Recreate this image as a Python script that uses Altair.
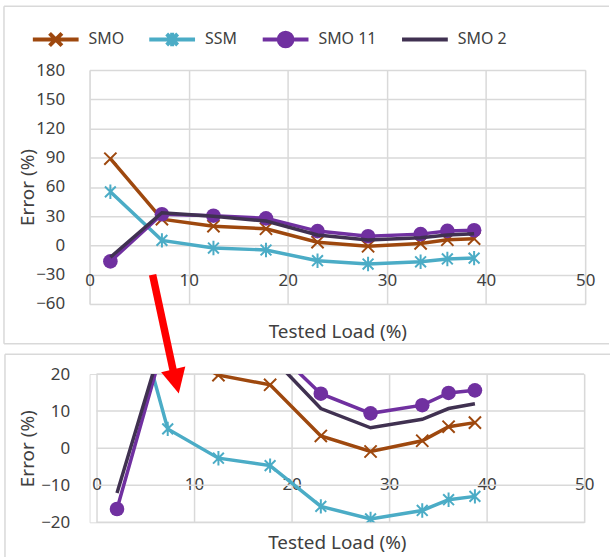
import altair as alt
import pandas as pd

# ---------------- data ----------------
series_names = ["SMO", "SSM", "SMO 11", "SMO 2"]
tested_load = [2.1, 7.3, 12.5, 17.8, 23.0, 28.1, 33.4, 36.1, 38.8]
err_smo = [89.0, 27.0, 19.7, 17.1, 3.3, -0.9, 2.0, 5.8, 6.9]
err_ssm = [55.0, 5.2, -2.7, -4.7, -15.7, -19.1, -16.8, -13.9, -13.0]
err_smo11 = [-16.4, 32.0, 30.5, 27.8, 14.7, 9.4, 11.6, 14.9, 15.6]
err_smo2 = [-12.1, 33.5, 30.0, 25.0, 10.7, 5.5, 7.8, 10.7, 12.0]

x_ticks = [0, 10, 20, 30, 40, 50]
y_ticks_top = [-60, -30, 0, 30, 60, 90, 120, 150, 180]
y_ticks_zoom = [-20, -10, 0, 10, 20]

series_colors = ["#9E480E", "#4BACC6", "#7030A0", "#403151"]

# red annotation arrow (in zoomed-panel data units)
arrow_load = [5.75, 7.9]
arrow_err = [46.8, 20.5]
arrow_head_load = [8.15]
arrow_head_err = [18.0]

rows = []
for name, vals in zip(series_names, [err_smo, err_ssm, err_smo11, err_smo2]):
    for x, v in zip(tested_load, vals):
        rows.append({"Series": name, "Load": x, "Error": v})
df = pd.DataFrame(rows)

arrow_df = pd.DataFrame({"Load": [arrow_load[0]], "Error": [arrow_err[0]],
                         "Load2": [arrow_load[1]], "Error2": [arrow_err[1]]})
head_df = pd.DataFrame({"Load": arrow_head_load, "Error": arrow_head_err})
grid_df = pd.DataFrame({"Error": y_ticks_zoom})
one = pd.DataFrame({"k": [0]})

FONT = "Noto Sans"
TXT = "#404040"
GRID = "#D9D9D9"

X_PATH = "M-1,-1L1,1M-1,1L1,-1"
AST_PATH = "M0,-1L0,1M-0.75,-0.75L0.75,0.75M-0.75,0.75L0.75,-0.75"
marker_paths = {"SMO": (X_PATH, False, 150), "SSM": (AST_PATH, False, 210),
                "SMO 11": ("circle", True, 215)}
EXT = "M0,-0.32M0,0.32"
legend_paths = [
    "M-1,0L1,0M-0.27,-0.27L0.27,0.27M-0.27,0.27L0.27,-0.27" + EXT,
    "M-1,0L1,0M0,-0.3L0,0.3M-0.24,-0.24L0.24,0.24M-0.24,0.24L0.24,-0.24" + EXT,
    "M-1,0L1,0M0.3,0A0.3,0.3 0 1,1 -0.3,0A0.3,0.3 0 1,1 0.3,0Z" + EXT,
    "M-1,0L1,0" + EXT,
]
TRI_PATH = "M-1,-1L1,-1L0,1Z"

color_scale = alt.Scale(domain=series_names, range=series_colors)


def xaxis(offset, title_y):
    return alt.Axis(values=x_ticks, grid=True, gridColor=GRID, gridWidth=1.5,
                    domain=False, ticks=False, tickSize=0, labelFlush=False,
                    labelPadding=0, labelBaseline="middle", labelFontSize=17,
                    labelFont=FONT, labelColor=TXT, offset=offset,
                    title="Tested Load (%)", titleFont=FONT, titleFontSize=19,
                    titleFontWeight="normal", titleColor=TXT, titleY=title_y,
                    titleBaseline="alphabetic")


def yaxis(vals, pad, tx, h, grid):
    return alt.Axis(values=vals, grid=grid, gridColor=GRID, gridWidth=1.5,
                    domain=False, ticks=False, tickSize=0, labelPadding=pad,
                    labelFontSize=17, labelFont=FONT, labelColor=TXT,
                    title="Error (%)", titleFont=FONT, titleFontSize=19,
                    titleFontWeight="normal", titleColor=TXT,
                    titleX=tx, titleY=h / 2, titleBaseline="middle",
                    titleAngle=270)


def panel(xdom, ydom, yvals, h, x_off, x_title_y, y_pad, y_title_x, clip, ygrid):
    xs = alt.Scale(domain=xdom, nice=False, zero=False)
    ys = alt.Scale(domain=ydom, nice=False, zero=False)
    X = alt.X("Load:Q", scale=xs, axis=xaxis(x_off, x_title_y))
    Y = alt.Y("Error:Q", scale=ys, axis=yaxis(yvals, y_pad, y_title_x, h, ygrid))
    layers = []
    for name in series_names:
        sub = alt.Chart(df).transform_filter(alt.datum.Series == name)
        layers.append(sub.mark_line(strokeWidth=3.5, clip=clip).encode(
            x=X, y=Y, color=alt.Color("Series:N", scale=color_scale, legend=None)))
        if name in marker_paths:
            shp, filled, size = marker_paths[name]
            layers.append(sub.mark_point(shape=shp, filled=filled, size=size,
                                         strokeWidth=2, opacity=1, clip=clip).encode(
                x=X, y=Y, color=alt.Color("Series:N", scale=color_scale, legend=None)))
    return X, Y, layers


bstyle = dict(color=GRID, strokeWidth=1.5)

# ---------------- top panel ----------------
TW, TH = 498, 235
X1, Y1, top_layers = panel([0, 50], [-60, 180], y_ticks_top, TH, -23, 57, 25, -62, False, True)

leg = dict(title=None, orient="none", legendX=-59, legendY=-56, direction="horizontal",
           symbolSize=2116, symbolStrokeWidth=4, labelFontSize=16, labelFont=FONT,
           labelColor=TXT, labelOffset=8, columnPadding=17)
legend_layer = alt.Chart(df).transform_filter("false").mark_point(
    filled=True, opacity=1, strokeWidth=4).encode(
    x=X1, y=Y1,
    shape=alt.Shape("Series:N", scale=alt.Scale(domain=series_names, range=legend_paths),
                    legend=alt.Legend(**leg)),
    fill=alt.Fill("Series:N", scale=alt.Scale(domain=series_names, range=series_colors),
                  legend=alt.Legend(**leg)),
    stroke=alt.Stroke("Series:N", scale=alt.Scale(domain=series_names, range=series_colors),
                      legend=alt.Legend(**leg)),
)

top_borders = [
    alt.Chart(one).mark_rule(**bstyle).encode(x=alt.value(-86), x2=alt.value(522), y=alt.value(-64)),
    alt.Chart(one).mark_rule(**bstyle).encode(x=alt.value(-86), y=alt.value(-64), y2=alt.value(275)),
    alt.Chart(one).mark_rule(**bstyle).encode(x=alt.value(-86), x2=alt.value(522), y=alt.value(275)),
]

top = alt.layer(*top_borders, *top_layers, legend_layer).properties(width=TW, height=TH)

# ---------------- zoomed panel ----------------
BW, BH = 497, 149
X2, Y2, bot_layers = panel([-7 / 9.8, 50], [-20, 20], y_ticks_zoom, BH, -38, 64, 20, -62, True, False)

zoom_grid = alt.Chart(grid_df).mark_rule(color=GRID, strokeWidth=1.5).encode(
    y=Y2, x=alt.datum(0), x2=alt.datum(50))

bot_borders = [
    alt.Chart(one).mark_rule(**bstyle).encode(x=alt.value(-85), x2=alt.value(523), y=alt.value(-20)),
    alt.Chart(one).mark_rule(**bstyle).encode(x=alt.value(-85), y=alt.value(-20), y2=alt.value(185)),
]

arrow_line = alt.Chart(arrow_df).mark_rule(color="#FF0000", strokeWidth=7.5, clip=False).encode(
    x=X2, y=Y2, x2="Load2:Q", y2="Error2:Q")
arrow_head = alt.Chart(head_df).mark_point(shape=TRI_PATH, filled=True, size=620, angle=347,
                                           color="#FF0000", opacity=1, clip=False).encode(x=X2, y=Y2)

bottom = alt.layer(*bot_borders, zoom_grid, *bot_layers, arrow_line, arrow_head).properties(
    width=BW, height=BH)

chart = alt.concat(top, bottom, columns=1, align="each", bounds="full", spacing=-76.5).resolve_legend(
    fill="independent", stroke="independent", shape="independent"
).properties(
    padding={"left": 2, "top": 3, "right": 0, "bottom": 0}
).configure_view(stroke=None).configure(background="white")

chart.save("out.html", embed_options={"renderer": "svg", "actions": False})
